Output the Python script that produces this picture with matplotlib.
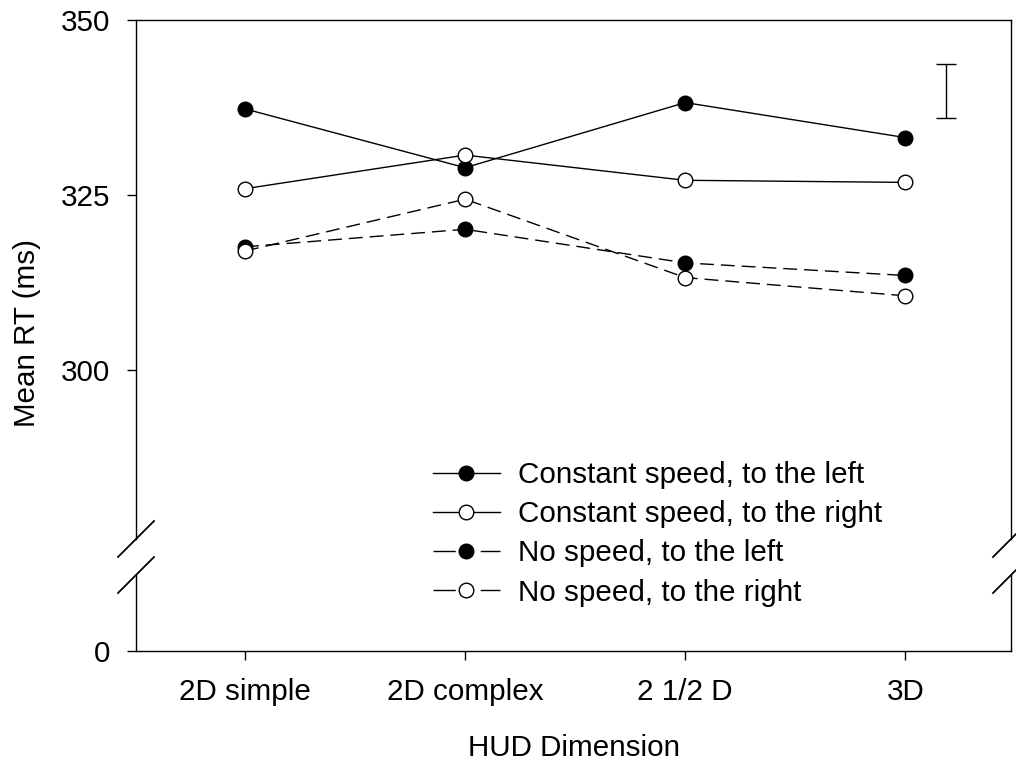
import matplotlib
matplotlib.use("Agg")
import matplotlib.pyplot as plt

plt.rcParams['font.family'] = ['Liberation Sans', 'DejaVu Sans']

categories = ['2D simple', '2D complex', '2 1/2 D', '3D']
const_left = [337.3, 328.9, 338.2, 333.2]
const_right = [325.9, 330.7, 327.1, 326.8]
nospeed_left = [317.6, 320.1, 315.3, 313.5]
nospeed_right = [317.0, 324.4, 313.2, 310.6]

# separate error bar shown in upper right corner
err_x = 3.185
err_y = 339.9
err_half = 3.85

fs = 21.3
fig = plt.figure(figsize=(10.16, 7.6), dpi=100)
ax = fig.add_axes([0.1339, 0.2908, 0.8612, 0.6829])
axb = fig.add_axes([0.1339, 0.1434, 0.8612, 0.1], sharex=ax)

x = list(range(len(categories)))
ms = 10.5
ax.plot(x, const_left, '-', color='black', lw=1, marker='o', ms=ms,
        mfc='black', mec='black', mew=1, label='Constant speed, to the left')
ax.plot(x, const_right, '-', color='black', lw=1, marker='o', ms=ms,
        mfc='white', mec='black', mew=1, label='Constant speed, to the right')
ax.plot(x, nospeed_left, color='black', lw=1, ls=(0, (10, 5)), marker='o', ms=ms,
        mfc='black', mec='black', mew=1, label='No speed, to the left')
ax.plot(x, nospeed_right, color='black', lw=1, ls=(0, (10, 5)), marker='o', ms=ms,
        mfc='white', mec='black', mew=1, label='No speed, to the right')

ax.errorbar([err_x], [err_y], yerr=[err_half], fmt='none', ecolor='black',
            elinewidth=1, capsize=7, capthick=1)

ax.set_xlim(-0.495, 3.48)
ax.set_ylim(275.86, 350)
ax.set_yticks([300, 325, 350])
ax.spines['bottom'].set_visible(False)
ax.tick_params(axis='x', which='both', bottom=False, labelbottom=False)
ax.tick_params(axis='y', direction='out', length=6.5, width=1, pad=12,
               labelsize=fs, right=False)

axb.set_ylim(0, 10)
axb.set_yticks([0])
axb.spines['top'].set_visible(False)
axb.set_xticks(x)
axb.set_xticklabels(categories)
axb.tick_params(axis='x', direction='out', length=6.5, width=1, pad=13, labelsize=fs)
axb.tick_params(axis='y', direction='out', length=6.5, width=1, pad=12, labelsize=fs)

for a in (ax, axb):
    for s in a.spines.values():
        s.set_linewidth(1)

# axis break marks
d = 18 / 1016
dy = 18 / 760
yb_top = 1 - 539 / 760
yb_bot = 1 - 575 / 760
for xs in (136 / 1016, 1011 / 1016):
    for yc in (yb_top, yb_bot):
        fig.add_artist(plt.Line2D([xs - d, xs + d], [yc - dy, yc + dy],
                                  color='black', lw=1.3))

fig.text(27 / 1016, 1 - 333 / 760, 'Mean RT (ms)', rotation=90,
         ha='center', va='center', fontsize=fs)
fig.text(574 / 1016, 1 - 748 / 760, 'HUD Dimension', ha='center',
         va='center', fontsize=fs)

handles, labels = ax.get_legend_handles_labels()
leg = fig.legend(handles, labels, loc='upper left',
                 bbox_to_anchor=(433 / 1016, 1 - 461 / 760), frameon=False,
                 fontsize=fs, handlelength=2.26, handletextpad=0.61,
                 labelspacing=0.38, borderpad=0, borderaxespad=0)
for ln in leg.get_lines()[2:]:
    ln.set_dashes((16, 18))

fig.savefig('out.png', dpi=100)
